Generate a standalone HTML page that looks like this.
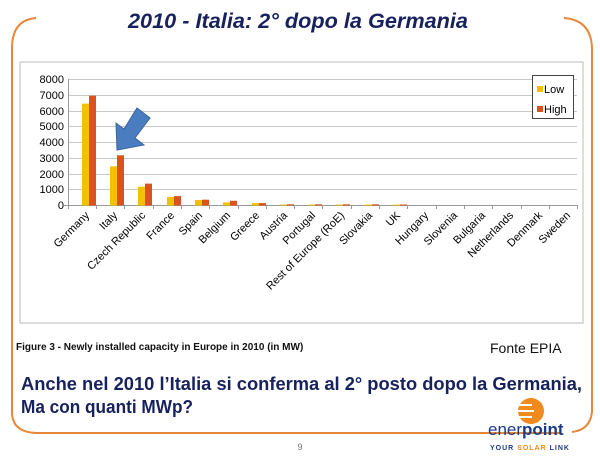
<!DOCTYPE html>
<html><head><meta charset="utf-8"><style>
html,body{margin:0;padding:0;background:#fff;}
svg{display:block;}
</style></head><body>
<svg width="600" height="456" viewBox="0 0 600 456" xmlns="http://www.w3.org/2000/svg" font-family="Liberation Sans, sans-serif">
<rect width="600" height="456" fill="#fff"/>
<path d="M36,18 Q12,20 12,48 L12,412 Q12,432 36,433 L560,433" fill="none" stroke="#e8873a" stroke-width="2"/>
<path d="M564,18 Q591,20 592,48 L592,412 Q590,430 572,432" fill="none" stroke="#e8873a" stroke-width="2"/>
<text x="128" y="28" textLength="340" lengthAdjust="spacingAndGlyphs" font-size="21" font-weight="bold" font-style="italic" fill="#17215e">2010 - Italia: 2° dopo la Germania</text>
<rect x="20" y="62" width="563" height="261" fill="#fff" stroke="#bbb" stroke-width="1"/>
<g stroke="#c8c8c8" stroke-width="1">
<line x1="68" y1="79.5" x2="577" y2="79.5"/><line x1="68" y1="95.5" x2="577" y2="95.5"/>
<line x1="68" y1="111.5" x2="577" y2="111.5"/><line x1="68" y1="126.5" x2="577" y2="126.5"/>
<line x1="68" y1="142.5" x2="577" y2="142.5"/><line x1="68" y1="158.5" x2="577" y2="158.5"/>
<line x1="68" y1="174.5" x2="577" y2="174.5"/><line x1="68" y1="189.5" x2="577" y2="189.5"/>
</g>
<line x1="68.5" y1="79" x2="68.5" y2="209" stroke="#999"/>
<line x1="64" y1="205.5" x2="577" y2="205.5" stroke="#999"/>
<g font-size="11" fill="#000" text-anchor="end">
<text x="64" y="83">8000</text><text x="64" y="99">7000</text><text x="64" y="115">6000</text>
<text x="64" y="130">5000</text><text x="64" y="146">4000</text><text x="64" y="162">3000</text>
<text x="64" y="178">2000</text><text x="64" y="193">1000</text><text x="64" y="209">0</text>
</g>
<g>
<rect x="82" y="103.6" width="7" height="101.9" fill="#f5c000"/><rect x="89" y="95.7" width="7" height="109.8" fill="#d9531e"/>
<rect x="110" y="166.3" width="7" height="39.2" fill="#f5c000"/><rect x="117" y="155.3" width="7" height="50.2" fill="#d9531e"/>
<rect x="138" y="186.7" width="7" height="18.8" fill="#f5c000"/><rect x="145" y="183.6" width="7" height="21.9" fill="#d9531e"/>
<rect x="167" y="196.9" width="7" height="8.6" fill="#f5c000"/><rect x="174" y="196.1" width="7" height="9.4" fill="#d9531e"/>
<rect x="195" y="200" width="7" height="5.5" fill="#f5c000"/><rect x="202" y="199.7" width="7" height="5.8" fill="#d9531e"/>
<rect x="223" y="202.4" width="7" height="3.1" fill="#f5c000"/><rect x="230" y="200.8" width="7" height="4.7" fill="#d9531e"/>
<rect x="252" y="203.1" width="7" height="2.4" fill="#f5c000"/><rect x="259" y="203.1" width="7" height="2.4" fill="#d9531e"/>
<rect x="280" y="204.6" width="7" height="0.9" fill="#f5c000"/><rect x="287" y="204.3" width="7" height="1.2" fill="#d9531e"/>
<rect x="308" y="204.6" width="7" height="0.9" fill="#f5c000"/><rect x="315" y="204.3" width="7" height="1.2" fill="#d9531e"/>
<rect x="336" y="204.6" width="7" height="0.9" fill="#f5c000"/><rect x="343" y="204.3" width="7" height="1.2" fill="#d9531e"/>
<rect x="365" y="204.6" width="7" height="0.9" fill="#f5c000"/><rect x="372" y="204.3" width="7" height="1.2" fill="#d9531e"/>
<rect x="393" y="204.6" width="7" height="0.9" fill="#f5c000"/><rect x="400" y="204.5" width="7" height="1" fill="#d9531e"/>
</g>
<g stroke="#999">
<line x1="96.5" y1="205" x2="96.5" y2="209"/><line x1="124.5" y1="205" x2="124.5" y2="209"/><line x1="153.5" y1="205" x2="153.5" y2="209"/>
<line x1="181.5" y1="205" x2="181.5" y2="209"/><line x1="209.5" y1="205" x2="209.5" y2="209"/><line x1="238.5" y1="205" x2="238.5" y2="209"/>
<line x1="266.5" y1="205" x2="266.5" y2="209"/><line x1="294.5" y1="205" x2="294.5" y2="209"/><line x1="322.5" y1="205" x2="322.5" y2="209"/>
<line x1="351.5" y1="205" x2="351.5" y2="209"/><line x1="379.5" y1="205" x2="379.5" y2="209"/><line x1="407.5" y1="205" x2="407.5" y2="209"/>
<line x1="436.5" y1="205" x2="436.5" y2="209"/><line x1="464.5" y1="205" x2="464.5" y2="209"/><line x1="492.5" y1="205" x2="492.5" y2="209"/>
<line x1="521.5" y1="205" x2="521.5" y2="209"/><line x1="549.5" y1="205" x2="549.5" y2="209"/><line x1="577.5" y1="205" x2="577.5" y2="209"/>
</g>
<g font-size="11" fill="#000" text-anchor="end">
<text transform="translate(90,216) rotate(-45)">Germany</text>
<text transform="translate(118,216) rotate(-45)">Italy</text>
<text transform="translate(146,216) rotate(-45)">Czech Republic</text>
<text transform="translate(175,216) rotate(-45)">France</text>
<text transform="translate(203,216) rotate(-45)">Spain</text>
<text transform="translate(231,216) rotate(-45)">Belgium</text>
<text transform="translate(260,216) rotate(-45)">Greece</text>
<text transform="translate(288,216) rotate(-45)">Austria</text>
<text transform="translate(316,216) rotate(-45)">Portugal</text>
<text transform="translate(345,216) rotate(-45)">Rest of Europe (RoE)</text>
<text transform="translate(373,216) rotate(-45)">Slovakia</text>
<text transform="translate(401,216) rotate(-45)">UK</text>
<text transform="translate(429,216) rotate(-45)">Hungary</text>
<text transform="translate(458,216) rotate(-45)">Slovenia</text>
<text transform="translate(486,216) rotate(-45)">Bulgaria</text>
<text transform="translate(514,216) rotate(-45)">Netherlands</text>
<text transform="translate(543,216) rotate(-45)">Denmark</text>
<text transform="translate(571,216) rotate(-45)">Sweden</text>
</g>
<rect x="532.5" y="75.5" width="41" height="43" fill="#fff" stroke="#444"/>
<rect x="537" y="86" width="6" height="6" fill="#f5c000"/><text x="544" y="93" font-size="11">Low</text>
<rect x="537" y="106" width="6" height="6" fill="#d9531e"/><text x="544" y="113" font-size="11">High</text>
<polygon points="117,150 116,123 124,129 137,108 150,118 135,138 144,145" fill="#4a7cc0" stroke="#3a64a0" stroke-width="1"/>
<text x="16" y="350" font-size="10" font-weight="bold" fill="#111">Figure 3 - Newly installed capacity in Europe in 2010 (in MW)</text>
<text x="490" y="353" font-size="14" fill="#111">Fonte EPIA</text>
<text x="21" y="390" textLength="561" lengthAdjust="spacingAndGlyphs" font-size="18" font-weight="bold" fill="#17215e">Anche nel 2010 l’Italia si conferma al 2° posto dopo la Germania,</text>
<text x="21" y="413" textLength="172" lengthAdjust="spacingAndGlyphs" font-size="18" font-weight="bold" fill="#17215e">Ma con quanti MWp?</text>
<circle cx="531" cy="411" r="13" fill="#f08a1c"/>
<g stroke="#fff" stroke-width="2"><line x1="518" y1="405" x2="532" y2="405"/><line x1="518" y1="411" x2="534" y2="411"/><line x1="518" y1="417" x2="532" y2="417"/></g>
<text x="488" y="435" font-size="17" fill="#1a3a8a">ener<tspan font-weight="bold">point</tspan></text>
<text x="490" y="450" font-size="7" font-weight="bold" fill="#1a3a8a" letter-spacing="1">YOUR <tspan fill="#f08a1c">SOLAR</tspan> LINK</text>
<text x="300" y="450" font-size="9" fill="#777" text-anchor="middle">9</text>
</svg>
</body></html>
